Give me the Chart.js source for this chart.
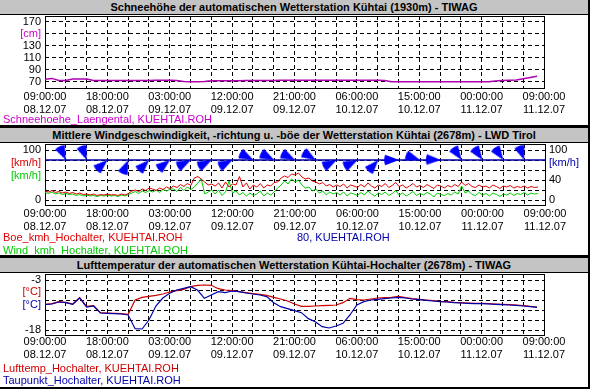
<!DOCTYPE html>
<html><head><meta charset="utf-8">
<script src="https://cdn.jsdelivr.net/npm/chart.js@4.4.1/dist/chart.umd.min.js"></script>
<style>
html,body{margin:0;padding:0;background:#fff;}
#wrap{position:relative;width:590px;height:389px;overflow:hidden;background:#fff;font-family:"Liberation Sans",Arial,sans-serif;}
.title{position:absolute;left:0;width:588px;height:14px;background:#c4c4c4;border-bottom:1px solid #000;font-weight:bold;font-size:11px;line-height:15px;text-align:center;color:#000;z-index:2;white-space:nowrap;}
.sep{position:absolute;left:0;width:590px;background:#000;z-index:3;}
canvas{position:absolute;left:0;z-index:1;}
.leg{position:absolute;left:3px;font-size:11px;line-height:13px;white-space:nowrap;z-index:2;}
</style></head><body>
<div id="wrap">
  <canvas id="c1" width="590" height="125" style="top:0px"></canvas>
  <canvas id="c2" width="590" height="127" style="top:128px"></canvas>
  <canvas id="c3" width="590" height="129" style="top:258px"></canvas>
  <div class="title" style="top:0px">Schneehöhe der automatischen Wetterstation Kühtai (1930m) - TIWAG</div>
  <div class="sep" style="top:125px;height:3px"></div>
  <div class="title" style="top:128px">Mittlere Windgeschwindigkeit, -richtung u. -böe der Wetterstation Kühtai (2678m) - LWD Tirol</div>
  <div class="sep" style="top:255px;height:3px"></div>
  <div class="title" style="top:258px">Lufttemperatur der automatischen Wetterstation Kühtai-Hochalter (2678m) - TIWAG</div>
  <div class="sep" style="top:0px;left:588px;width:2px;height:389px"></div>
  <div class="sep" style="top:387px;height:2px"></div>
  <div class="leg" style="top:113px;color:#cc00cc">Schneehoehe_Laengental, KUEHTAI.ROH</div>
  <div class="leg" style="top:231px;color:#dd0000">Boe_kmh_Hochalter, KUEHTAI.ROH</div>
  <div class="leg" style="top:231px;left:297px;color:#0000aa">80, KUEHTAI.ROH</div>
  <div class="leg" style="top:244px;color:#00cc00">Wind_kmh_Hochalter, KUEHTAI.ROH</div>
  <div class="leg" style="top:362px;color:#cc0000">Lufttemp_Hochalter, KUEHTAI.ROH</div>
  <div class="leg" style="top:374px;color:#0000aa">Taupunkt_Hochalter, KUEHTAI.ROH</div>
</div>
<script>
// ---------- DATA ----------
const timeLabels = ['09:00:00','18:00:00','03:00:00','12:00:00','21:00:00','06:00:00','15:00:00','00:00:00','09:00:00'];
const dateLabels = ['08.12.07','08.12.07','09.12.07','09.12.07','09.12.07','10.12.07','10.12.07','11.12.07','11.12.07'];

// Snow depth [cm], hourly from 08.12.07 09:00
const snowCm = [
 74, 75.5, 72, 72, 74.5, 74.5, 74.5, 72, 72, 72,
 72, 72, 72, 72, 72, 72, 72.5, 72.5, 72.5, 72,
 70.5, 70, 70, 70.5, 71.5, 71.5, 71.5, 71.5, 71.5, 72,
 72, 72, 72, 72, 72.5, 72.5, 72.5, 72.5, 72.5, 72.5,
 72.5, 72.5, 72.5, 72.5, 72.5, 72.5, 72.5, 72.5, 72.5, 72,
 70, 70, 70, 70, 70, 70, 70, 70, 70, 70,
 70, 70, 70, 70, 70, 71, 72, 72.5, 73, 75,
 77, 79
];

// Gust [km/h], half-hourly
const gustKmh = [
 18,16,19,15,17,14,16,
 13,15,12,14,11,12,
 10,12,9,11,10,12,
 10,11,9,12,10,13,
 18,20,17,22,19,24,
 22,19,24,21,26,23,
 28,25,31,27,33,29,
 44,47,42,36,30,32,
 28,34,24,36,26,32,
 30,47,26,34,22,30,
 26,33,24,30,28,35,
 36,44,48,45,52,50,
 54,46,42,44,38,36,
 32,35,28,31,26,30,
 27,32,24,30,28,25,
 31,26,34,28,24,30,
 27,33,25,29,35,27,
 30,24,28,33,26,29,
 25,31,27,23,30,28,
 24,29,26,31,27,36,
 29,33,27,25,30,26,
 28,24,30,27,23,28,
 26,29,24,27,25,28,
 24,27,25,26
];

// Mean wind [km/h], half-hourly
const windKmh = [
 15,13,16,12,14,11,13,
 11,12,9,11,8,10,
 8,9,7,9,8,10,
 8,9,7,10,8,11,
 14,17,13,18,15,19,
 16,20,15,21,18,22,
 22,17,25,19,26,21,
 26,34,42,12,16,20,
 12,20,9,16,38,14,
 18,10,15,8,14,9,
 12,18,8,14,10,16,
 24,30,38,32,42,36,
 40,30,24,26,18,22,
 14,18,10,16,12,15,
 10,16,8,14,12,9,
 15,10,18,12,8,14,
 11,16,9,13,19,10,
 14,8,12,17,9,13,
 10,15,12,6,14,11,
 9,13,10,16,12,28,
 14,18,11,9,15,10,
 13,8,14,11,7,12,
 10,14,9,13,11,15,
 10,14,12,13
];

// Wind direction [deg], every 3 hours (null = none shown)
const windDirDeg = [null,335,339,228,203,225,232,243,243,243,297,297,297,301,243,243,222,270,288,272,325,325,325,340,null];
const dirLineValue = 80;

// Temperatures [°C], hourly
const airTemp = [
 -10.3,-10.1,-9.5,-9.7,-10.2,-8.3,-10.9,-10.7,-12.8,-12.9,-13.0,-13.1,-13.3,
 -9.0,-8.2,-7.9,-7.6,-7.2,-6.6,-6.2,-5.8,-5.0,-4.6,
 -4.5,-4.6,-5.6,-6.0,-6.2,-6.5,-6.8,-7.1,-7.3,-7.6,
 -8.2,-8.7,-9.3,-10.2,-10.9,-10.9,-10.8,-10.7,-10.6,-10.5,
 -9.8,-8.5,-8.9,-9.0,-8.7,-8.4,-8.3,-8.2,-7.9,-8.3,
 -8.6,-8.8,-9.0,-9.2,-9.4,-9.5,-9.7,-9.8,-9.9,-10.0,
 -10.0,-10.1,-10.2,-10.3,-10.4,-10.5,-10.7,-10.9,-11.1
];
const dewPoint = [
 -10.4,-10.2,-9.6,-9.8,-10.3,-8.4,-11.1,-10.8,-12.9,-13.0,-13.1,-13.2,-13.5,
 -17.6,-17.7,-15.0,-10.8,-8.4,-7.0,-6.0,-5.5,-5.0,-6.0,
 -8.5,-7.5,-6.5,-6.8,-6.3,-6.5,-6.9,-7.2,-7.5,-8.0,
 -9.8,-11.0,-11.6,-12.2,-12.8,-14.6,-15.5,-17.0,-17.4,-16.8,
 -16.0,-13.5,-10.5,-9.5,-9.0,-8.8,-8.6,-8.4,-8.2,-8.4,
 -8.7,-8.9,-9.1,-9.3,-9.5,-9.6,-9.8,-9.9,-10.0,-10.1,
 -10.1,-10.2,-10.3,-10.4,-10.5,-10.6,-10.8,-11.0,-11.2
];

// Y-axis tick definitions
const snowGrid = [70,90,110,130,150,170];
const snowTicks = [70,90,110,130,150,170];
const snowTickLabels = ['70','90','110','130','[cm]','170'];
const windGrid = [0,20,40,60,80,100];
const windLeftTicks = [0,48,74,100];
const windLeftLabels = ['0','[km/h]','[km/h]','100'];
const windRightTicks = [0,40,74,100];
const windRightLabels = ['0','40','[km/h]','100'];
const tempGrid = [-18,-15,-12,-9,-6,-3];
const tempTicks = [-18,-10.5,-6.7,-3];
const tempTickLabels = ['-18','[°C]','[°C]','-3'];

// ---------- RENDER ----------
Chart.defaults.font.family = '"Liberation Sans", Arial, sans-serif';
Chart.defaults.font.size = 11;
Chart.defaults.color = '#000';

const HOURS = 72, GRID_STEP = 3, LABEL_STEP = 9;
const xTickVals = [];
for (let h = 0; h <= HOURS; h += GRID_STEP) xTickVals.push(h);

const toPts = (arr, step) => arr.map((v, i) => ({x: i * step, y: v}));

function xAxis(height, pad) {
  return {
    type: 'linear', min: 0, max: HOURS,
    afterFit: s => { s.height = height; },
    afterBuildTicks: s => { s.ticks = xTickVals.map(v => ({value: v})); },
    ticks: {
      autoSkip: false, maxRotation: 0, minRotation: 0, padding: pad,
      callback: v => (v % LABEL_STEP === 0) ? [timeLabels[v / LABEL_STEP], dateLabels[v / LABEL_STEP]] : ''
    },
    grid: { drawTicks: false, color: '#000', lineWidth: 1 },
    border: { display: false, dash: [4, 3] }
  };
}

function yAxis(o) {
  const all = Array.from(new Set([...(o.grid || []), ...o.ticks])).sort((a, b) => a - b);
  return {
    type: 'linear', position: o.position || 'left', min: o.min, max: o.max,
    afterFit: s => { s.width = o.width; },
    afterBuildTicks: s => { s.ticks = all.map(v => ({value: v})); },
    ticks: {
      autoSkip: false, padding: 4,
      color: c => { const i = o.ticks.indexOf(c.tick.value); return i >= 0 ? o.colors[i] : '#000'; },
      callback: v => { const i = o.ticks.indexOf(v); return i >= 0 ? o.labels[i] : ''; }
    },
    grid: {
      display: !!o.grid, drawTicks: false, lineWidth: 1,
      color: c => (o.grid && o.grid.includes(c.tick.value)) ? '#000' : 'rgba(0,0,0,0)'
    },
    border: { display: false, dash: [4, 3] }
  };
}

const framePlugin = {
  id: 'frame',
  beforeDatasetsDraw(chart) {
    const a = chart.chartArea, c = chart.ctx;
    c.save(); c.strokeStyle = '#000'; c.lineWidth = 1;
    c.strokeRect(Math.round(a.left) + 0.5, Math.round(a.top) + 0.5, Math.round(a.right - a.left), Math.round(a.bottom - a.top));
    c.restore();
  }
};

const baseOpts = (padding, scales) => ({
  responsive: false, animation: false, events: [],
  layout: { padding },
  plugins: { legend: { display: false }, tooltip: { enabled: false } },
  elements: { point: { radius: 0 }, line: { tension: 0 } },
  scales
});

// Panel 1: snow
new Chart(document.getElementById('c1'), {
  type: 'line',
  data: { datasets: [
    { data: toPts(snowCm, 1), borderColor: '#b000b0', borderWidth: 1.5 }
  ]},
  options: baseOpts({top: 16, right: 46, left: 0, bottom: 0}, {
    x: xAxis(37, 2),
    y: yAxis({min: 59.5, max: 179.5, width: 45, grid: snowGrid, ticks: snowTicks, labels: snowTickLabels,
              colors: ['#000','#000','#000','#000','#cc00cc','#000']})
  }),
  plugins: [framePlugin]
});

// Panel 2: wind
function makeWedge() {
  const c = document.createElement('canvas'); c.width = 34; c.height = 34;
  const g = c.getContext('2d');
  g.fillStyle = '#0000ff';
  g.beginPath(); g.moveTo(17, 17);
  g.arc(17, 17, 15, -Math.PI / 2 - 0.36, -Math.PI / 2 + 0.36);
  g.closePath(); g.fill();
  return c;
}
const wedge = makeWedge();
const dirPts = [];
windDirDeg.forEach((d, k) => { if (d !== null) dirPts.push({x: k * GRID_STEP, y: dirLineValue, d}); });

new Chart(document.getElementById('c2'), {
  type: 'line',
  data: { datasets: [
    { data: dirPts, showLine: false, pointStyle: wedge, pointRadius: 8,
      pointRotation: c => (c.raw ? c.raw.d : 0), clip: false, order: 0 },
    { data: [{x: 0, y: dirLineValue}, {x: HOURS, y: dirLineValue}], borderColor: '#0000a0', borderWidth: 1.5, order: 1 },
    { data: toPts(gustKmh, 0.5), borderColor: '#dd0000', borderWidth: 1, order: 2 },
    { data: toPts(windKmh, 0.5), borderColor: '#00cc00', borderWidth: 1, order: 3 }
  ]},
  options: baseOpts({top: 16, right: 0, left: 0, bottom: 0}, {
    x: xAxis(50, 2),
    y: yAxis({min: -10, max: 112, width: 45, grid: windGrid, ticks: windLeftTicks, labels: windLeftLabels,
              colors: ['#000','#00cc00','#dd0000','#000']}),
    y2: yAxis({position: 'right', min: -10, max: 112, width: 45, grid: null, ticks: windRightTicks, labels: windRightLabels,
              colors: ['#000','#000','#0000aa','#000']})
  }),
  plugins: [framePlugin]
});

// Panel 3: temperature
new Chart(document.getElementById('c3'), {
  type: 'line',
  data: { datasets: [
    { data: toPts(dewPoint, 1), borderColor: '#0000aa', borderWidth: 1.2, order: 0 },
    { data: toPts(airTemp, 1), borderColor: '#cc0000', borderWidth: 1.2, order: 1 }
  ]},
  options: baseOpts({top: 16, right: 46, left: 0, bottom: 0}, {
    x: xAxis(52, 0),
    y: yAxis({min: -19.5, max: -1.2, width: 45, grid: tempGrid, ticks: tempTicks, labels: tempTickLabels,
              colors: ['#000','#0000aa','#cc0000','#000']})
  }),
  plugins: [framePlugin]
});
</script>
</body></html>
